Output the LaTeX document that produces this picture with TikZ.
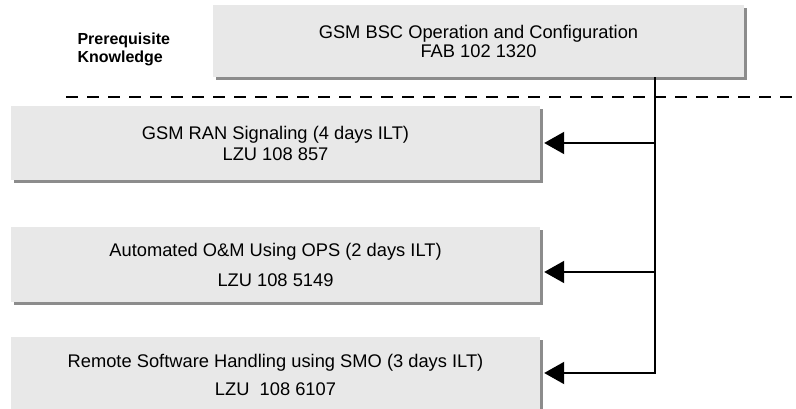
\documentclass[tikz,border=0pt]{standalone}
\usepackage{fontspec}
\setmainfont{Liberation Sans}
\usetikzlibrary{arrows.meta,shadows}
\definecolor{boxgray}{RGB}{232,232,232}
\definecolor{shadowgray}{RGB}{140,140,140}
\begin{document}
\begin{tikzpicture}[>={Triangle[length=20pt,width=22pt]},x=1pt,y=1pt,
    course/.style={fill=boxgray,minimum width=529pt,minimum height=74pt,inner sep=0pt,
      align=center,font=\fontsize{18.3}{22}\selectfont,
      drop shadow={shadow xshift=3pt,shadow yshift=-3pt,fill=shadowgray,opacity=1}},
    link/.style={line width=2pt}]
    \useasboundingbox (0,0) rectangle (796,409);
    \clip (0,0) rectangle (796,409);
    \def\tx{655}
    % prerequisite
    \node[anchor=west,align=left,font=\bfseries\fontsize{16}{18}\selectfont] (prereq) at (74,360) {Prerequisite\\Knowledge};
    \node[course,minimum width=531pt,minimum height=72pt] (bsc) at (478.5,368) {GSM BSC Operation and Configuration\\[-3pt]FAB 102 1320};
    \draw[line width=2.5pt,dash pattern=on 12pt off 9pt] (66,312) -- (796,312);
    % courses
    \node[course] (ran) at (275.5,266) {GSM RAN Signaling (4 days ILT)\\[-1pt]LZU 108 857};
    \node[course,minimum height=75pt] (ops) at (275.5,144.5) {Automated O\&M Using OPS (2 days ILT)\\[8pt]LZU 108 5149};
    \node[course,minimum height=76pt] (smo) at (275.5,34) {Remote Software Handling using SMO (3 days ILT)\\[6pt]LZU\ \ 108 6107};
    % connectors
    \coordinate (t1) at (\tx,266);
    \coordinate (t2) at (\tx,137);
    \coordinate (t3) at (\tx,36);
    \draw[link,->] (bsc.south -| t1) |- ([xshift=4pt]t3 -| smo.east);
    \draw[link,->] (t1) -- ([xshift=4pt]t1 -| ran.east);
    \draw[link,->] (t2) -- ([xshift=4pt]t2 -| ops.east);
\end{tikzpicture}
\end{document}
